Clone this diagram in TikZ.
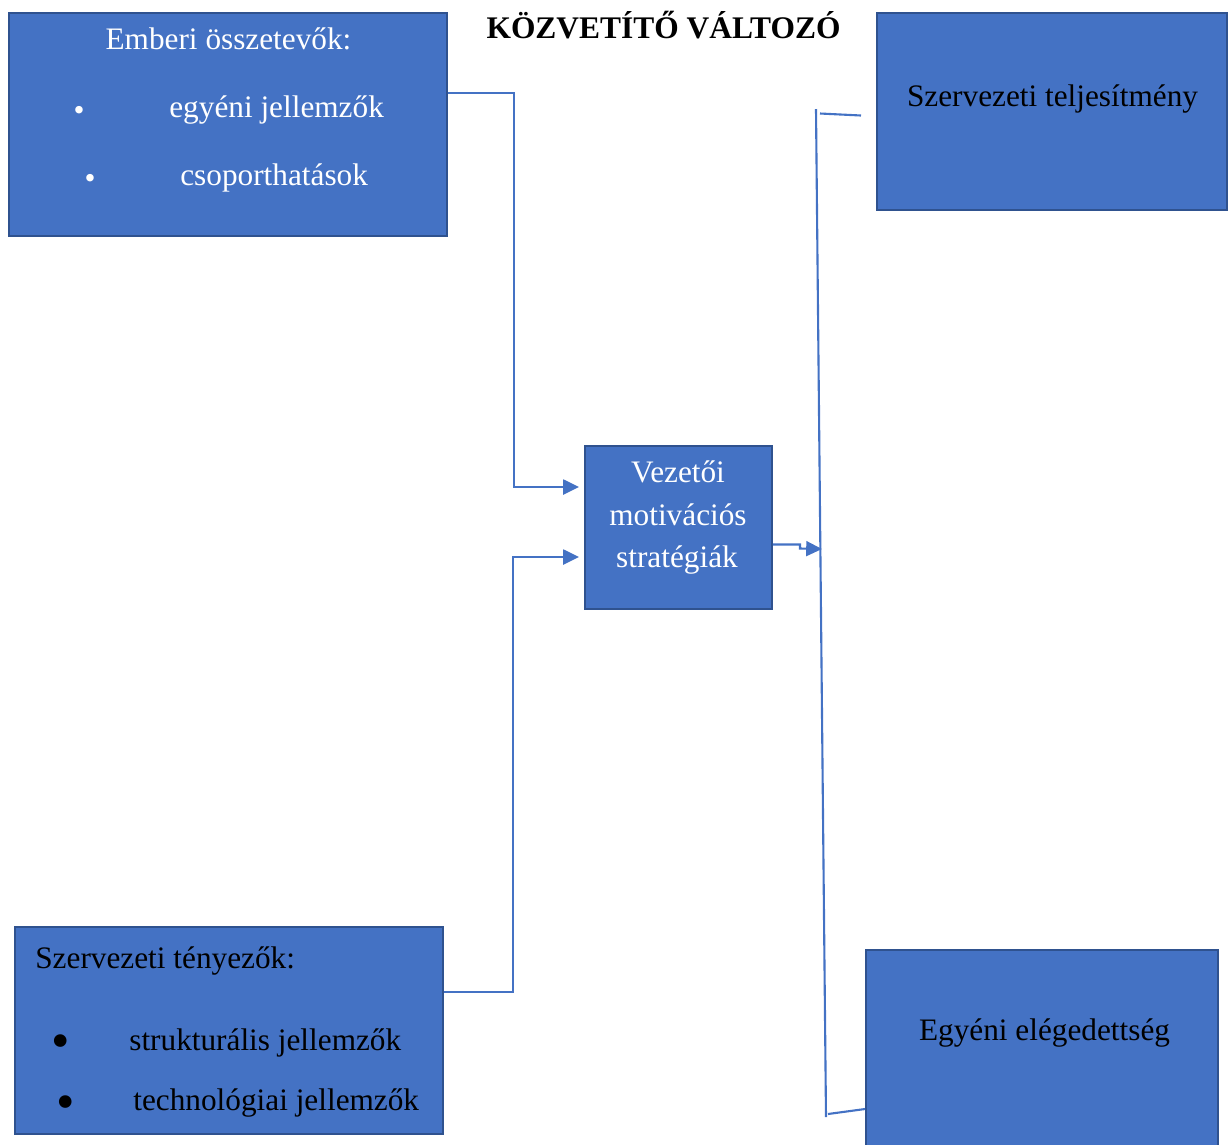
\documentclass[tikz,border=0pt]{standalone}
\usepackage{fontspec}
\setmainfont{Liberation Serif}
\usetikzlibrary{arrows.meta,positioning,calc}

\begin{document}
\begin{tikzpicture}[x=0.02cm,y=-0.02cm]
                \definecolor{boxblue}{RGB}{68,114,196}
                \definecolor{boxedge}{RGB}{47,82,143}
                \tikzset{
                    blockbox/.style={draw=boxedge, fill=boxblue, line width=1.1pt, inner sep=0pt},
                    lbl/.style={font=\fontsize{17.8}{21}\selectfont, inner sep=0pt},
                    link/.style={draw=boxblue, line width=1.2pt},
                    linkarrow/.style={link, -{Triangle[length=9pt,width=8.5pt]}}
                }
                \useasboundingbox (0,0) rectangle (1228,1144);

                % Boxes (pixel grid, y downwards)
                \node[blockbox, minimum width=8.76cm, minimum height=4.46cm] (emb) at (228,124.5) {};
                \node[blockbox, minimum width=7.0cm, minimum height=3.94cm] (szt) at (1052,111.5) {};
                \node[blockbox, minimum width=3.74cm, minimum height=3.26cm] (vez) at (678.5,527.5) {};
                \node[blockbox, minimum width=8.56cm, minimum height=4.14cm] (szf) at (229,1030.5) {};
                \node[blockbox, minimum width=7.04cm, minimum height=4.0cm] (egy) at (1042,1050) {};

                % Title
                \node[lbl, font=\fontsize{17.9}{21}\selectfont\bfseries, anchor=base] (title) at (663.5,38) {KÖZVETÍTŐ VÁLTOZÓ};

                % Labels of the left top box
                \node[lbl, text=white, anchor=base] (embhead) at (228.5,49) {Emberi összetevők:};
                \node[lbl, text=white, anchor=center] (embdot1) at (79,113) {•};
                \node[lbl, text=white, anchor=base west] (embitem1) at (169,117) {egyéni jellemzők};
                \node[lbl, text=white, anchor=center] (embdot2) at (90,181) {•};
                \node[lbl, text=white, anchor=base west] (embitem2) at (180,185) {csoporthatások};

                % Labels of the left bottom box
                \node[lbl, anchor=base west] (szfhead) at (35,968) {Szervezeti tényezők:};
                \node[lbl, font=\fontsize{30}{30}\selectfont, anchor=center] (szfdot1) at (61,1047) {•};
                \node[lbl, anchor=base west] (szfitem1) at (129,1050) {strukturális jellemzők};
                \node[lbl, font=\fontsize{30}{30}\selectfont, anchor=center] (szfdot2) at (66,1108) {•};
                \node[lbl, anchor=base west] (szfitem2) at (133,1110) {technológiai jellemzők};

                % Middle and right labels
                \node[lbl, text=white, anchor=base] (vez1) at (678,482) {Vezetői};
                \node[lbl, text=white, anchor=base] (vez2) at (678,525) {motivációs};
                \node[lbl, text=white, anchor=base] (vez3) at (677,567) {stratégiák};
                \node[lbl, anchor=base] (sztlbl) at (1052.5,106) {Szervezeti teljesítmény};
                \node[lbl, anchor=base] (egylbl) at (1044.5,1040) {Egyéni elégedettség};

                % Arrows into the middle box
                \coordinate (in1) at ($(vez.west)+(-5,-40.5)$);
                \coordinate (in2) at ($(vez.west)+(-5,29.5)$);
                \draw[linkarrow] ($(emb.east)+(0,-31.5)$) -- ++(66,0) |- (in1);
                \draw[linkarrow] ($(szf.east)+(0,-38.5)$) -- ++(69,0) |- (in2);

                % Right side: spine with the two ticks
                \coordinate (spinetop) at (816,109);
                \coordinate (spinebot) at (826,1117);
                \coordinate (out) at (822,549);
                \coordinate (ticktopa) at (820,113.5);
                \coordinate (ticktopb) at (861,115.5);
                \coordinate (tickbota) at (828,1114);
                \coordinate (tickbotb) at ($(egy.west)+(0,59)$);
                \draw[link] (spinetop) -- (spinebot);
                \draw[link] (ticktopa) -- (ticktopb);
                \draw[link] (tickbota) -- (tickbotb);
                \draw[linkarrow] ($(vez.east)+(0,17)$) -- ++(27,0) -- ++(0,4) -- (out);
            \end{tikzpicture}
\end{document}
